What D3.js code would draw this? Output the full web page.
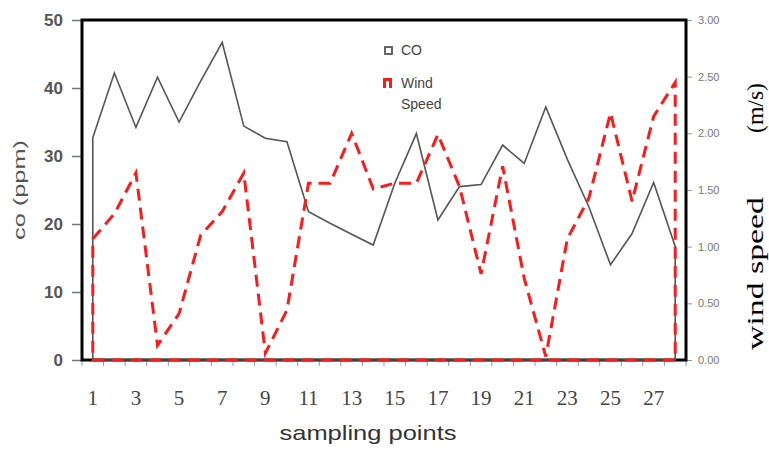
<!DOCTYPE html>
<html>
<head>
<meta charset="utf-8">
<script src="https://cdn.jsdelivr.net/npm/d3@7/dist/d3.min.js"></script>
<style>
  html, body { margin: 0; padding: 0; background: #fff; }
  svg { display: block; }
</style>
</head>
<body>
<svg id="chart" width="769" height="453"></svg>
<script>
const categories = d3.range(1, 29);
const coValues = [32.7, 42.2, 34.2, 41.6, 35.0, 41.0, 46.7, 34.4, 32.6, 32.1, 21.8, 20.1, 18.5, 16.9, 26.0, 33.3, 20.6, 25.5, 25.8, 31.6, 28.9, 37.2, 29.5, 22.5, 14.0, 18.6, 26.1, 16.7];
const windValues = [1.07, 1.29, 1.65, 0.13, 0.41, 1.10, 1.31, 1.65, 0.06, 0.44, 1.56, 1.56, 2.00, 1.51, 1.56, 1.56, 1.99, 1.53, 0.76, 1.71, 0.72, 0.03, 1.07, 1.43, 2.18, 1.40, 2.15, 2.45];
const leftTicks = [0, 10, 20, 30, 40, 50];
const rightTicks = [0, 0.5, 1, 1.5, 2, 2.5, 3];
const xLabels = categories.filter(d => d % 2 === 1);

const svg = d3.select("#chart");
const L = 82, R = 686, T = 20, B = 360;

const x = d3.scaleBand().domain(categories).range([L, R]).padding(0);
const yL = d3.scaleLinear().domain([0, 50]).range([B, T]);
const yR = d3.scaleLinear().domain([0, 3]).range([B, T]);
const cx = d => x(d) + x.bandwidth() / 2;

// left axis
const gl = svg.append("g").attr("transform", `translate(${L},0)`)
  .call(d3.axisLeft(yL).tickValues(leftTicks).tickSize(10).tickPadding(9).tickFormat(d3.format("d")));
gl.select(".domain").remove();
gl.selectAll(".tick line").attr("stroke", "#777").attr("stroke-width", 1.5);
gl.selectAll(".tick text").attr("fill", "#555").attr("font-family", "Liberation Sans, Arial, sans-serif")
  .attr("font-weight", "bold").attr("font-size", 17);

// right axis
const gr = svg.append("g").attr("transform", `translate(${R},0)`)
  .call(d3.axisRight(yR).tickValues(rightTicks).tickSize(6).tickPadding(6).tickFormat(d3.format(".2f")));
gr.select(".domain").remove();
gr.selectAll(".tick line").attr("stroke", "#999");
gr.selectAll(".tick text").attr("fill", "#777").attr("font-family", "Liberation Sans, Arial, sans-serif")
  .attr("font-size", 11);

// bottom tick marks at band boundaries
const bounds = categories.map(d => x(d)).concat([R]);
svg.append("g").selectAll("line").data(bounds).join("line")
  .attr("x1", d => d).attr("x2", d => d).attr("y1", B).attr("y2", B + 6)
  .attr("stroke", "#999").attr("stroke-width", 1);

// bottom labels
svg.append("g").selectAll("text").data(xLabels).join("text")
  .attr("x", d => cx(d)).attr("y", 405).attr("text-anchor", "middle")
  .attr("font-family", "Liberation Serif, Times New Roman, serif").attr("font-size", 21)
  .attr("fill", "#444").text(d => d);

// frame
svg.append("rect").attr("x", L).attr("y", T).attr("width", R - L).attr("height", B - T)
  .attr("fill", "none").attr("stroke", "#000").attr("stroke-width", 3);

// CO series (unfilled area outline)
const coArea = d3.area().x((d, i) => cx(categories[i])).y0(yL(0)).y1(d => yL(d));
svg.append("path").datum(coValues).attr("d", coArea)
  .attr("fill", "none").attr("stroke", "#555").attr("stroke-width", 1.6).attr("stroke-linejoin", "miter");

// Wind series
const windArea = d3.area().x((d, i) => cx(categories[i])).y0(yR(0)).y1(d => yR(d));
svg.append("path").datum(windValues).attr("d", windArea)
  .attr("fill", "none").attr("stroke", "#ff1a1a").attr("stroke-width", 3)
  .attr("stroke-dasharray", "12,7");

// legend
const lg = svg.append("g");
lg.append("rect").attr("x", 385).attr("y", 47).attr("width", 7).attr("height", 7)
  .attr("fill", "#fff").attr("stroke", "#555").attr("stroke-width", 1.8);
lg.append("text").attr("x", 401).attr("y", 55).text("CO");
lg.append("path").attr("d", "M384.5,88 L384.5,79.5 L390.5,79.5 L390.5,88")
  .attr("fill", "none").attr("stroke", "#ff1a1a").attr("stroke-width", 3);
lg.append("text").attr("x", 401).attr("y", 88).text("Wind");
lg.append("text").attr("x", 401).attr("y", 109).text("Speed");
lg.selectAll("text").attr("font-family", "Liberation Sans Narrow, Liberation Sans, Arial, sans-serif")
  .attr("font-size", 14).attr("fill", "#444");

// axis titles
svg.append("text").attr("transform", "translate(25,190) rotate(-90)").attr("text-anchor", "middle")
  .attr("font-family", "Liberation Sans, Arial, sans-serif").attr("font-size", 17).attr("fill", "#555")
  .attr("textLength", 100).attr("lengthAdjust", "spacingAndGlyphs").text("co (ppm)");

svg.append("text").attr("x", 368).attr("y", 440).attr("text-anchor", "middle")
  .attr("font-family", "Liberation Sans, Arial, sans-serif").attr("font-size", 21).attr("fill", "#333")
  .attr("textLength", 177).attr("lengthAdjust", "spacingAndGlyphs").text("sampling points");

svg.append("text").attr("transform", "translate(763,273.5) rotate(-90)").attr("text-anchor", "middle")
  .attr("font-family", "Liberation Serif, Times New Roman, serif").attr("font-size", 23).attr("fill", "#000")
  .attr("textLength", 153).attr("lengthAdjust", "spacingAndGlyphs").text("wind speed");
svg.append("text").attr("transform", "translate(763,108) rotate(-90)").attr("text-anchor", "middle")
  .attr("font-family", "Liberation Serif, Times New Roman, serif").attr("font-size", 23).attr("fill", "#000")
  .attr("textLength", 50).attr("lengthAdjust", "spacingAndGlyphs").text("(m/s)");
</script>
</body>
</html>
